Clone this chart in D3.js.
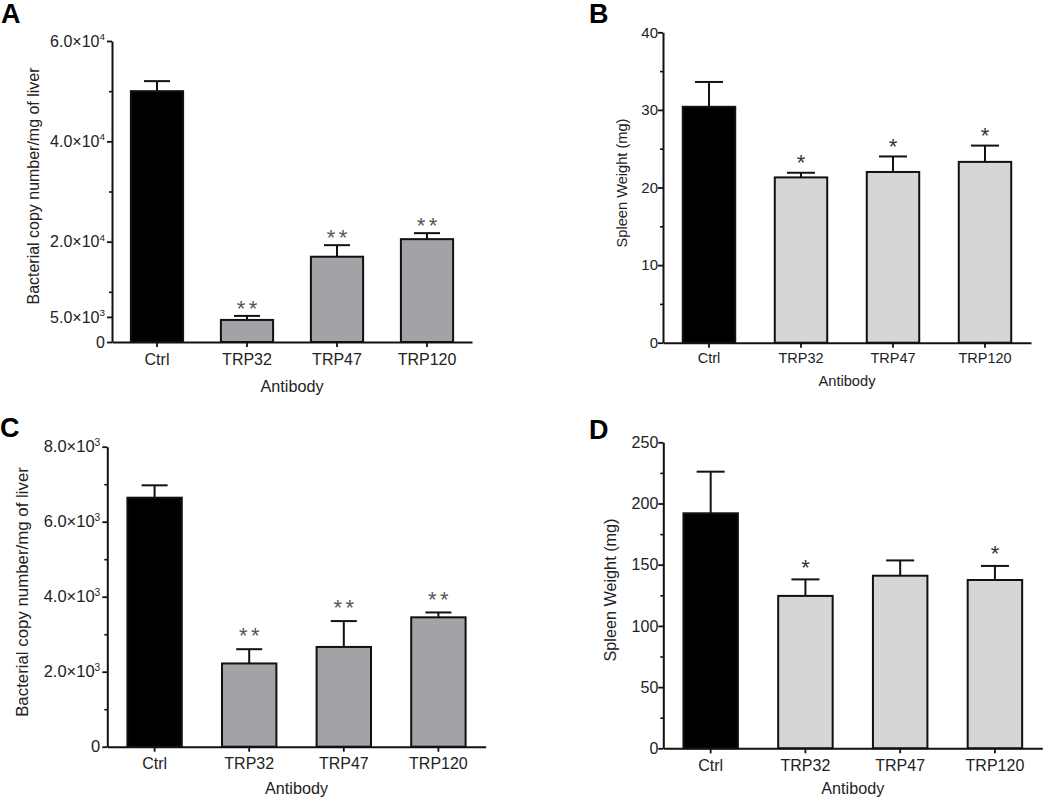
<!DOCTYPE html>
<html><head><meta charset="utf-8">
<script src="https://cdn.jsdelivr.net/npm/d3@7"></script>
<style>
body{margin:0;background:#fff}
svg{display:block}
text{font-family:"Liberation Sans",Arial,Helvetica,sans-serif}
</style>
</head><body>
<svg id="chart" width="1050" height="808"></svg>
<script>
// ---------- DATA ----------
const categories = ["Ctrl", "TRP32", "TRP47", "TRP120"];

// Panel A: bacterial copy number / mg of liver
const liverA = [50000, 4400, 17000, 20500];
const liverAErr = [2000, 800, 2300, 1200];
const liverASig = ["", "**", "**", "**"];
const liverATicks = [0, 5000, 20000, 40000, 60000];
const liverATickLabels = ["0", "5.0×10^3", "2.0×10^4", "4.0×10^4", "6.0×10^4"];
const liverAMinor = [10000, 30000, 50000];

// Panel B: spleen weight (mg)
const spleenB = [30.4, 21.3, 22.0, 23.3];
const spleenBErr = [3.2, 0.6, 2.0, 2.1];
const spleenBSig = ["", "*", "*", "*"];
const spleenBTicks = [0, 10, 20, 30, 40];
const spleenBTickLabels = ["0", "10", "20", "30", "40"];
const spleenBMinor = [5, 15, 25, 35];

// Panel C: bacterial copy number / mg of liver
const liverC = [6640, 2220, 2660, 3450];
const liverCErr = [330, 380, 690, 130];
const liverCSig = ["", "**", "**", "**"];
const liverCTicks = [0, 2000, 4000, 6000, 8000];
const liverCTickLabels = ["0", "2.0×10^3", "4.0×10^3", "6.0×10^3", "8.0×10^3"];
const liverCMinor = [1000, 3000, 5000, 7000];

// Panel D: spleen weight (mg)
const spleenD = [192, 124.5, 141, 137.5];
const spleenDErr = [34, 13.5, 12.5, 11.5];
const spleenDSig = ["", "*", "", "*"];
const spleenDTicks = [0, 50, 100, 150, 200, 250];
const spleenDTickLabels = ["0", "50", "100", "150", "200", "250"];
const spleenDMinor = [25, 75, 125, 175, 225];

const xTitle = "Antibody";
const liverTitle = "Bacterial copy number/mg of liver";
const spleenTitle = "Spleen Weight (mg)";

// ---------- PANELS (data + layout) ----------
const panels = [
  {letter:"A", values:liverA, errs:liverAErr, sig:liverASig, ticks:liverATicks, labels:liverATickLabels,
   minor:liverAMinor, yMax:60000, yTitle:liverTitle, fill:"#a3a3a7", starColor:"#555",
   L:{x0:112, x1:472, y0:342, y1:41, pad:0.42, fs:16, tfs:16, titleX:33, titleY:186, titleLen:237, xTitleLen:63,
      xTickY:359, xTitleY:386, letterX:1, letterY:23, capW:26, starOff:13, labelGap:7}},
  {letter:"B", values:spleenB, errs:spleenBErr, sig:spleenBSig, ticks:spleenBTicks, labels:spleenBTickLabels,
   minor:spleenBMinor, yMax:40, yTitle:spleenTitle, fill:"#d6d6d6", starColor:"#333",
   L:{x0:663, x1:1031, y0:342.7, y1:32.3, pad:0.43, fs:14.5, tfs:15, titleX:622, titleY:183, titleLen:129, xTitleLen:57,
      xTickY:358, xTitleY:381, letterX:589, letterY:23, capW:28, starOff:15.5, labelGap:5}},
  {letter:"C", values:liverC, errs:liverCErr, sig:liverCSig, ticks:liverCTicks, labels:liverCTickLabels,
   minor:liverCMinor, yMax:8000, yTitle:liverTitle, fill:"#a3a3a7", starColor:"#555",
   L:{x0:107.3, x1:485.7, y0:746.7, y1:446.7, pad:0.425, fs:16, tfs:16.5, titleX:22, titleY:592, titleLen:250, xTitleLen:63,
      xTickY:763, xTitleY:788, letterX:0, letterY:437, capW:26, starOff:18.5, labelGap:7}},
  {letter:"D", values:spleenD, errs:spleenDErr, sig:spleenDSig, ticks:spleenDTicks, labels:spleenDTickLabels,
   minor:spleenDMinor, yMax:250, yTitle:spleenTitle, fill:"#d6d6d6", starColor:"#333",
   L:{x0:663.3, x1:1042.3, y0:748.3, y1:442.3, pad:0.425, fs:16, tfs:16, titleX:610, titleY:590, titleLen:143, xTitleLen:63,
      xTickY:765, xTitleY:788, letterX:589, letterY:439, capW:28, starOff:17.5, labelGap:5}}
];

const svg = d3.select("#chart");
const ink = "#111";
const textInk = "#222";

function fitFont(sel, base, target) {
  sel.attr("font-size", base);
  const len = sel.node().getComputedTextLength();
  if (len > 0) sel.attr("font-size", base * target / len);
}

panels.forEach(p => {
  const L = p.L;
  const g = svg.append("g");
  const y = d3.scaleLinear().domain([0, p.yMax]).range([L.y0, L.y1]);
  const x = d3.scaleBand().domain(categories).range([L.x0, L.x1])
              .paddingInner(L.pad).paddingOuter(L.pad / 2);
  const bw = x.bandwidth();
  const rows = categories.map((c, i) => ({c, v:p.values[i], e:p.errs[i], s:p.sig[i], i}));

  // error bars + significance marks
  rows.forEach(r => {
    const cx = x(r.c) + bw / 2;
    const top = y(r.v + r.e);
    g.append("line").attr("x1", cx).attr("x2", cx)
      .attr("y1", y(r.v)).attr("y2", top)
      .attr("stroke", ink).attr("stroke-width", 2);
    g.append("line").attr("x1", cx - L.capW / 2).attr("x2", cx + L.capW / 2)
      .attr("y1", top).attr("y2", top)
      .attr("stroke", ink).attr("stroke-width", 2);
    if (r.s) {
      const n = r.s.length;
      const gap = 12;
      for (let k = 0; k < n; k++) {
        const sx = cx + (k - (n - 1) / 2) * gap;
        g.append("text").attr("x", sx).attr("y", top - L.starOff)
          .attr("dy", "0.58em").attr("text-anchor", "middle")
          .attr("font-size", 22).attr("fill", p.starColor).text("*");
      }
    }
  });

  // bars
  g.selectAll("rect.bar").data(rows).enter().append("rect")
    .attr("class", "bar")
    .attr("x", d => x(d.c)).attr("width", bw)
    .attr("y", d => y(d.v)).attr("height", d => L.y0 - y(d.v))
    .attr("fill", d => d.i === 0 ? "#000" : p.fill)
    .attr("stroke", ink).attr("stroke-width", 2);

  // y axis minor ticks
  const yMinor = g.append("g").attr("transform", `translate(${L.x0},0)`)
    .call(d3.axisLeft(y).tickValues(p.minor).tickSize(3).tickFormat(""));
  yMinor.select(".domain").remove();
  yMinor.selectAll("line").attr("stroke", ink).attr("stroke-width", 1.6);

  // y axis major
  const yAx = g.append("g").attr("transform", `translate(${L.x0},0)`)
    .call(d3.axisLeft(y).tickValues(p.ticks).tickSize(5).tickSizeOuter(0).tickPadding(L.labelGap - 5)
      .tickFormat((d, i) => p.labels[i]));
  yAx.select(".domain").attr("stroke", ink).attr("stroke-width", 2);
  yAx.selectAll("line").attr("stroke", ink).attr("stroke-width", 1.8);
  yAx.selectAll("text").each(function(d, i) {
    const t = d3.select(this);
    const lab = p.labels[i];
    t.text(null).attr("font-size", L.tfs).attr("fill", textInk).attr("font-family", null);
    const parts = lab.split("^");
    t.append("tspan").text(parts[0]);
    if (parts.length > 1) {
      t.append("tspan").attr("font-size", L.tfs * 0.62).attr("dy", -L.tfs * 0.42).text(parts[1]);
    }
  });

  // x axis
  const xAx = g.append("g").attr("transform", `translate(0,${L.y0})`)
    .call(d3.axisBottom(x).tickSize(5).tickSizeOuter(0).tickPadding(0));
  xAx.select(".domain").attr("stroke", ink).attr("stroke-width", 2);
  xAx.selectAll("line").attr("stroke", ink).attr("stroke-width", 1.8);
  xAx.selectAll("text").attr("y", L.xTickY - L.y0).attr("dy", "0.35em")
    .attr("font-size", L.fs).attr("fill", textInk).attr("font-family", null);

  // titles
  const xt = g.append("text").attr("x", (L.x0 + L.x1) / 2).attr("y", L.xTitleY).attr("dy", "0.35em")
    .attr("text-anchor", "middle").attr("fill", textInk).text(xTitle);
  fitFont(xt, L.fs, L.xTitleLen);
  const yt = g.append("text").attr("transform", `translate(${L.titleX},${L.titleY}) rotate(-90)`)
    .attr("dy", "0.35em").attr("text-anchor", "middle")
    .attr("fill", textInk).text(p.yTitle);
  fitFont(yt, L.fs, L.titleLen);

  // panel letter
  g.append("text").attr("x", L.letterX).attr("y", L.letterY)
    .attr("font-size", 27).attr("font-weight", "bold").attr("fill", "#000").text(p.letter);
});
</script>
</body></html>
